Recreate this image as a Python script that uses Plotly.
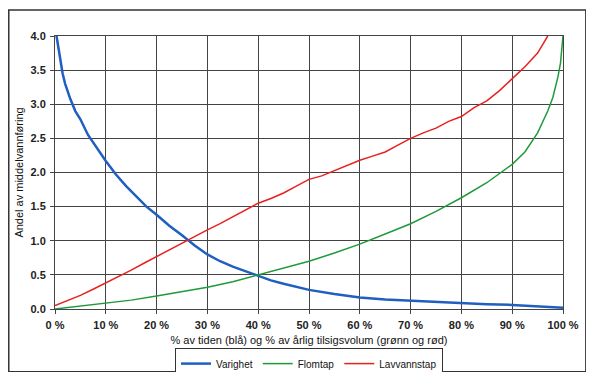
import plotly.graph_objects as go

# Varighet (blue)
var_x = [0.3, 1, 1.5, 2, 3, 4, 5, 6.5, 8, 10, 12, 14, 16, 18, 20, 22.5, 25, 27.5, 30, 32.5, 35,
         37.5, 40, 42.5, 45, 47.5, 50, 55, 60, 65, 70, 75, 80, 85, 90, 95, 100]
var_y = [4.0, 3.65, 3.45, 3.3, 3.08, 2.9, 2.78, 2.55, 2.38, 2.17, 1.97, 1.8, 1.65, 1.5, 1.38, 1.22,
         1.08, 0.93, 0.8, 0.7, 0.62, 0.55, 0.49, 0.42, 0.37, 0.32, 0.28, 0.22, 0.17, 0.14, 0.12,
         0.1, 0.085, 0.07, 0.06, 0.045, 0.02]

# Flomtap (green)
flom_x = [0, 5, 10, 15, 20, 25, 30, 35, 40, 45, 50, 55, 60, 65, 70, 75, 80, 85, 90, 92.5, 95,
          97, 98, 99, 99.5, 100]
flom_y = [0.0, 0.04, 0.08, 0.13, 0.19, 0.25, 0.32, 0.4, 0.5, 0.6, 0.7, 0.82, 0.95, 1.1, 1.25,
          1.43, 1.63, 1.85, 2.12, 2.3, 2.58, 2.9, 3.1, 3.4, 3.6, 4.0]

# Lavvannstap (red)
lav_x = [0, 2.5, 5, 7.5, 10, 12.5, 15, 17.5, 20, 22.5, 25, 27.5, 30, 32.5, 35, 37.5, 40, 42.5,
         45, 47.5, 50, 52.5, 55, 57.5, 60, 62.5, 65, 67.5, 70, 72.5, 75, 77.5, 80, 82.5, 85,
         87.5, 90, 92.5, 95, 97]
lav_y = [0.05, 0.12, 0.2, 0.29, 0.38, 0.48, 0.57, 0.67, 0.77, 0.86, 0.96, 1.06, 1.16, 1.25,
         1.35, 1.45, 1.55, 1.62, 1.7, 1.8, 1.9, 1.95, 2.03, 2.1, 2.18, 2.24, 2.3, 2.4, 2.5,
         2.58, 2.65, 2.75, 2.82, 2.95, 3.05, 3.2, 3.38, 3.55, 3.75, 4.0]

x_ticks = [0, 10, 20, 30, 40, 50, 60, 70, 80, 90, 100]
x_tick_labels = ["0 %", "10 %", "20 %", "30 %", "40 %", "50 %", "60 %", "70 %", "80 %", "90 %", "100 %"]
y_ticks = [0, 0.5, 1.0, 1.5, 2.0, 2.5, 3.0, 3.5, 4.0]
y_tick_labels = ["0.0", "0.5", "1.0", "1.5", "2.0", "2.5", "3.0", "3.5", "4.0"]

fig = go.Figure()
fig.add_trace(go.Scatter(x=var_x, y=var_y, mode="lines", name="Varighet",
                         line=dict(color="#1f5fc0", width=2.5)))
fig.add_trace(go.Scatter(x=flom_x, y=flom_y, mode="lines", name="Flomtap",
                         line=dict(color="#1f9a3a", width=1.5)))
fig.add_trace(go.Scatter(x=lav_x, y=lav_y, mode="lines", name="Lavvannstap",
                         line=dict(color="#e82020", width=1.5)))

FAM = "Liberation Sans, Arial, sans-serif"
tickfont = dict(family=FAM, size=11, color="#222", weight="bold")
titlefont = dict(family=FAM, size=11, color="#111")

# page has an 8px body margin, so the figure is 8px smaller and margins shifted
fig.update_layout(
    width=586, height=364,
    margin=dict(l=47, r=31, t=28, b=63, autoexpand=False),
    paper_bgcolor="white", plot_bgcolor="white",
    font=dict(family=FAM, size=10, color="#111"),
    showlegend=True,
    legend=dict(orientation="h", x=0.5, xanchor="center",
                y=-0.2, yanchor="middle",
                bordercolor="#333", borderwidth=1, bgcolor="white",
                font=dict(family=FAM, size=10, color="#111"),
                itemwidth=30, tracegroupgap=0),
    xaxis=dict(range=[0, 100], tickvals=x_ticks, ticktext=x_tick_labels,
               showgrid=True, gridcolor="#444", gridwidth=1, zeroline=False,
               showline=True, linecolor="#444", mirror=True,
               ticks="outside", ticklen=4, tickcolor="#444",
               automargin=False, ticklabelstandoff=2,
               tickfont=tickfont,
               title=dict(text="% av tiden (blå) og % av årlig tilsigsvolum (grønn og rød)",
                          font=titlefont, standoff=6)),
    yaxis=dict(range=[0, 4.0], tickvals=y_ticks, ticktext=y_tick_labels,
               showgrid=True, gridcolor="#444", gridwidth=1, zeroline=False,
               showline=True, linecolor="#444", mirror=True,
               ticks="outside", ticklen=4, tickcolor="#444",
               automargin=False, ticklabelstandoff=2,
               tickfont=tickfont,
               title=dict(text="Andel av middelvannføring",
                          font=titlefont, standoff=4)),
    shapes=[dict(type="rect", xref="paper", yref="paper",
                 x0=-0.091, x1=1.045, y0=-0.23, y1=1.095,
                 line=dict(color="#333", width=1.5), fillcolor="rgba(0,0,0,0)", layer="below")],
)

fig.write_html("out.html")
